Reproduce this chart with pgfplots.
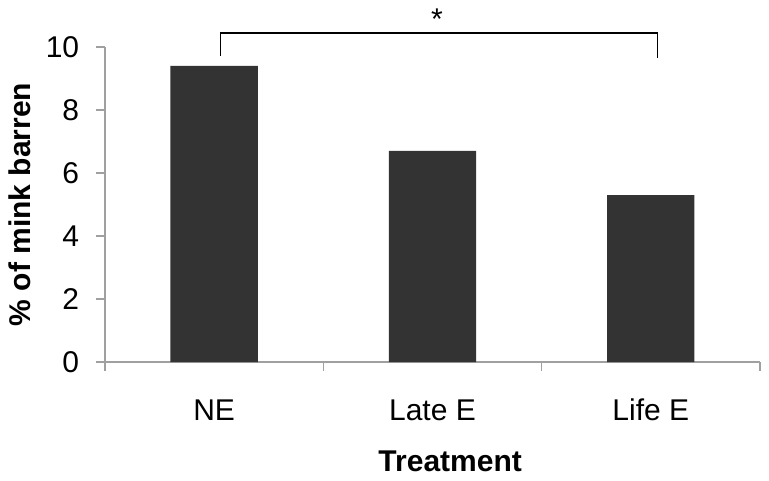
\documentclass[border=0pt]{standalone}
\usepackage{fontspec}
\setmainfont{Liberation Sans}
\usepackage{pgfplots}
\pgfplotsset{compat=1.18}
\definecolor{barc}{HTML}{333333}
\definecolor{axc}{HTML}{A0A0A0}
\begin{document}
\fontsize{29}{34}\selectfont
\begin{tikzpicture}
\begin{axis}[
  scale only axis, width=655pt, height=315pt,
  xmin=-0.5, xmax=2.5, ymin=0, ymax=10,
  axis x line=bottom, axis y line=left,
  axis line style={axc, line width=1.3pt, -},
  tick style={axc, line width=1.3pt},
  tick align=outside, major tick length=9pt,
  /pgf/number format/assume math mode=true,
  ytick={0,2,4,6,8,10},
  xtick={-0.5,0.5,1.5,2.5}, xticklabels={},
  extra x ticks={0,1,2},
  extra x tick labels={NE,Late E,Life E},
  extra x tick style={grid=none, major tick length=0pt,
    xticklabel style={anchor=base, yshift=-58pt}},
  ticklabel style={font=\fontsize{30}{34}\selectfont, text=black},
  yticklabel style={xshift=-7pt},
  ylabel={\textbf{\% of mink barren}},
  xlabel={\textbf{Treatment}},
  label style={font=\fontsize{30}{34}\selectfont},
  ylabel style={at={(axis description cs:-0.13,0.5)}, anchor=center},
  xlabel style={at={(axis description cs:0.527,-0.315)}, anchor=center},
  clip=false,
]
\addplot[ybar, bar width=0.4, fill=barc, draw=none] coordinates {(0,9.4) (1,6.7) (2,5.3)};
\draw[black, line width=1.5pt] (axis cs:0.03,9.71) |- (axis cs:2.03,10.44) -- (axis cs:2.03,9.65);
\node[anchor=base, inner sep=0pt, font=\fontsize{30}{34}\selectfont] at (axis cs:1.02,10.55) {*};
\end{axis}
\pgfresetboundingbox
\useasboundingbox (-105pt,-118pt) rectangle (664pt,362pt);
\end{tikzpicture}
\end{document}
